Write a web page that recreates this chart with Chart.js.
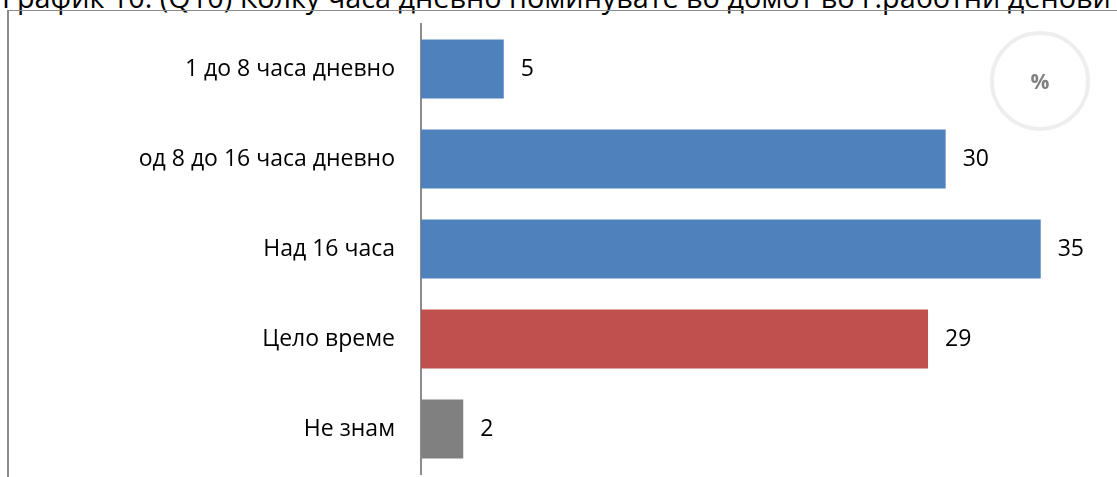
<!DOCTYPE html>
<html>
<head>
<meta charset="utf-8">
<script src="https://cdn.jsdelivr.net/npm/chart.js@4"></script>
<style>
  body { margin: 0; width: 1117px; height: 477px; overflow: hidden; background: #fff; position: relative; font-family: 'Open Sans', sans-serif; }
  #title { position: absolute; left: 2px; top: -18px; font-size: 28.8px; line-height: 29px; white-space: nowrap; color: #000; }
  #frame { position: absolute; left: 7px; top: 10px; right: 0; bottom: 0; border-left: 2px solid #8c8c8c; border-top: 1.5px solid #8c8c8c; }
  #pct { position: absolute; left: 990px; top: 31px; width: 92px; height: 92px; border-radius: 50%; border: 4px solid #eeeeee; color: #808080; font-size: 21px; font-weight: bold; display: flex; align-items: center; justify-content: center; }
  canvas { position: absolute; left: 0; top: 0; }
</style>
</head>
<body>
<div id="title">График 10. (Q10) Колку часа дневно поминувате во домот во г.работни денови</div>
<div id="frame"></div>
<canvas id="chart" width="1117" height="477"></canvas>
<div id="pct">%</div>
<script>
const categories = ['1 до 8 часа дневно', 'од 8 до 16 часа дневно', 'Над 16 часа', 'Цело време', 'Не знам'];
const values = [4.7, 29.8, 35.2, 28.8, 2.4];
const barColors = ['#4f81bd', '#4f81bd', '#4f81bd', '#c0504d', '#808080'];

// value labels right of each bar
const valueLabels = {
  id: 'valueLabels',
  afterDatasetsDraw(chart) {
    const ctx = chart.ctx;
    const meta = chart.getDatasetMeta(0);
    ctx.save();
    ctx.font = '23px "Open Sans"';
    ctx.fillStyle = '#000';
    ctx.textAlign = 'left';
    ctx.textBaseline = 'middle';
    meta.data.forEach((bar, i) => {
      ctx.fillText(Math.round(values[i]), bar.x + 17, bar.y);
    });
    ctx.restore();
  }
};

const ctx = document.getElementById('chart').getContext('2d');
new Chart(ctx, {
  type: 'bar',
  data: {
    labels: categories,
    datasets: [{
      data: values,
      backgroundColor: barColors,
      borderWidth: 0,
      categoryPercentage: 1,
      barPercentage: 0.655,
    }],
  },
  options: {
    indexAxis: 'y',
    responsive: false,
    animation: false,
    layout: { padding: { top: 24, bottom: 3, right: 27, left: 0 } },
    plugins: { legend: { display: false }, tooltip: { enabled: false } },
    scales: {
      x: {
        min: 0,
        max: 38,
        display: false,
      },
      y: {
        grid: { display: false, drawTicks: false },
        border: { display: true, color: '#8c8c8c', width: 2 },
        ticks: { color: '#000', padding: 26, font: { family: 'Open Sans', size: 23 } },
        afterFit(scale) {
          scale.width = 421;
          scale.paddingTop = 0;
          scale.paddingBottom = 0;
        },
      },
    },
  },
  plugins: [valueLabels],
});
</script>
</body>
</html>
